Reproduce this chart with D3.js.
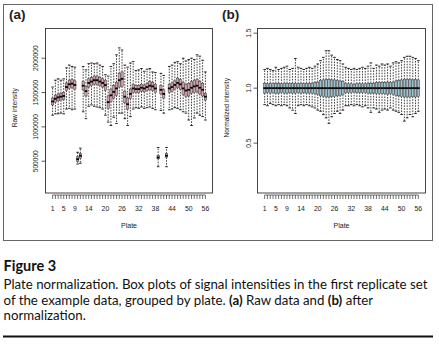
<!DOCTYPE html>
<html><head><meta charset="utf-8">
<script src="https://cdn.jsdelivr.net/npm/d3@7"></script>
<style>
html,body{margin:0;padding:0;background:#fff;}
svg{display:block;}
</style></head>
<body>
<svg id="chart" width="439" height="345"></svg>
<script>
// ---------- data ----------
const plates = [1,2,3,4,5,6,7,8,9,10,11,12,13,14,15,16,17,18,19,20,21,22,23,24,25,26,27,28,
  29,30,31,32,33,34,35,36,37,38,39,40,41,42,43,44,45,46,47,48,49,50,51,52,53,54,55,56];
const xTickLabels = [1,5,9,14,20,26,32,38,44,50,56];
const rawTicks = [500000,1000000,1500000,2000000];
const normTicks = [0.5,1.0,1.5];

const rawMedian = [1370000,1410000,1430000,1440000,1450000,1580000,1620000,1630000,1610000,530000,
  580000,1600000,1520000,1640000,1660000,1680000,1680000,1660000,1640000,1610000,
  1360000,1460000,1510000,1560000,1680000,1700000,1440000,1330000,1480000,1560000,
  1550000,1550000,1570000,1560000,1580000,1600000,1590000,1560000,555000,1540000,
  1480000,580000,1560000,1580000,1610000,1640000,1620000,1560000,1530000,1540000,
  1570000,1590000,1600000,1570000,1540000,1440000];
const rawQ1 = [1320000,1360000,1380000,1390000,1400000,1530000,1560000,1570000,1550000,500000,
  545000,1540000,1450000,1580000,1600000,1620000,1620000,1600000,1580000,1530000,
  1270000,1370000,1420000,1460000,1580000,1590000,1350000,1260000,1410000,1500000,
  1500000,1500000,1520000,1510000,1530000,1540000,1530000,1500000,535000,1480000,
  1420000,555000,1500000,1520000,1550000,1570000,1550000,1470000,1440000,1450000,
  1490000,1500000,1510000,1480000,1450000,1390000];
const rawQ3 = [1420000,1460000,1480000,1490000,1500000,1640000,1680000,1690000,1670000,565000,
  615000,1660000,1590000,1700000,1720000,1740000,1740000,1720000,1700000,1680000,
  1450000,1550000,1600000,1650000,1780000,1800000,1520000,1420000,1550000,1620000,
  1600000,1600000,1620000,1610000,1630000,1660000,1650000,1620000,580000,1600000,
  1540000,610000,1620000,1640000,1670000,1710000,1690000,1650000,1620000,1630000,
  1660000,1680000,1690000,1660000,1630000,1490000];
const rawHigh = [1580000,1680000,1700000,1680000,1700000,1860000,1900000,1880000,1870000,630000,
  690000,1880000,1830000,1920000,1930000,1920000,1930000,1900000,1880000,1760000,
  1740000,1880000,1920000,2050000,2150000,2120000,1900000,1870000,1930000,1950000,
  1820000,1830000,1850000,1810000,1840000,1850000,1800000,1790000,700000,1780000,
  1750000,700000,1880000,1900000,1940000,1950000,1920000,2000000,1960000,1980000,
  2000000,1980000,2050000,2030000,1970000,1800000];
const rawLow = [1170000,1190000,1190000,1200000,1190000,1260000,1270000,1250000,1260000,460000,
  470000,1220000,1120000,1300000,1320000,1300000,1290000,1280000,1260000,1170000,
  1070000,1020000,1140000,1050000,1200000,1200000,1120000,1020000,1150000,1260000,
  1280000,1270000,1290000,1270000,1280000,1290000,1270000,1250000,420000,1240000,
  1200000,420000,1250000,1260000,1280000,1270000,1250000,1220000,1200000,1100000,
  1020000,1130000,1200000,1170000,1150000,1100000];

const normMedian = [1,1,1,1,1,1,1,1,1,1,1,1,1,1,1,1,1,1,1,1,1,1,1,1,1,1,1,1,
  1,1,1,1,1,1,1,1,1,1,1,1,1,1,1,1,1,1,1,1,1,1,1,1,1,1,1,1];
const normQ1 = [0.955,0.96,0.955,0.96,0.955,0.955,0.96,0.955,0.955,0.96,
  0.955,0.955,0.96,0.955,0.96,0.955,0.955,0.955,0.95,0.945,
  0.93,0.925,0.92,0.92,0.925,0.925,0.93,0.935,0.94,0.96,
  0.96,0.96,0.965,0.96,0.96,0.96,0.96,0.955,0.955,0.955,
  0.95,0.95,0.95,0.95,0.945,0.95,0.945,0.935,0.93,0.925,
  0.92,0.92,0.92,0.925,0.92,0.925];
const normQ3 = [1.045,1.04,1.045,1.04,1.045,1.045,1.04,1.045,1.045,1.04,
  1.045,1.045,1.04,1.045,1.04,1.045,1.045,1.045,1.05,1.055,
  1.07,1.075,1.08,1.08,1.075,1.075,1.07,1.065,1.06,1.04,
  1.04,1.04,1.035,1.04,1.04,1.04,1.04,1.045,1.045,1.045,
  1.05,1.05,1.05,1.05,1.055,1.05,1.055,1.065,1.07,1.075,
  1.08,1.08,1.08,1.075,1.08,1.075];
const normHigh = [1.17,1.18,1.17,1.16,1.19,1.17,1.18,1.19,1.20,1.17,
  1.18,1.27,1.19,1.18,1.17,1.18,1.19,1.18,1.20,1.22,
  1.25,1.28,1.34,1.34,1.30,1.28,1.26,1.25,1.22,1.19,
  1.18,1.17,1.18,1.17,1.18,1.19,1.18,1.20,1.23,1.18,
  1.21,1.20,1.22,1.21,1.22,1.20,1.23,1.24,1.23,1.25,
  1.28,1.29,1.29,1.28,1.27,1.25];
const normLow = [0.85,0.84,0.86,0.85,0.84,0.85,0.84,0.85,0.84,0.82,
  0.80,0.77,0.84,0.85,0.84,0.85,0.84,0.83,0.82,0.80,
  0.79,0.76,0.73,0.68,0.74,0.77,0.79,0.77,0.80,0.84,
  0.84,0.85,0.84,0.85,0.84,0.83,0.84,0.82,0.78,0.82,
  0.81,0.78,0.80,0.81,0.80,0.82,0.80,0.79,0.78,0.76,
  0.70,0.73,0.76,0.74,0.77,0.79];

// ---------- drawing ----------
const svg = d3.select("#chart");
const AX = "Liberation Sans, Arial, Helvetica, sans-serif";
const CAP = "Lato, 'Open Sans', sans-serif";

// outer frame
svg.append("rect").attr("x",3.5).attr("y",4.5).attr("width",429).attr("height",236)
  .attr("fill","none").attr("stroke","#666").attr("stroke-width",1);

function panel(opts){
  const {left,right,top,bottom,domain,ticks,tickFmt,med,q1,q3,lo,hi,fill,label,labelX,ylab,yTickX,yLabX} = opts;
  const g = svg.append("g");
  const x = d3.scaleLinear().domain([-1.74, 58.74]).range([left,right]);
  const y = d3.scaleLinear().domain(domain).range([bottom,top]);
  const bw = 2.3;
  const rows = plates.map((p,i)=>({p,med:med[i],q1:q1[i],q3:q3[i],lo:lo[i],hi:hi[i]}));
  // whiskers (dashed)
  g.selectAll(".wu").data(rows).join("line")
    .attr("x1",d=>x(d.p)).attr("x2",d=>x(d.p))
    .attr("y1",d=>y(d.q3)).attr("y2",d=>y(d.hi))
    .attr("stroke","#111").attr("stroke-width",0.8).attr("stroke-dasharray","1.6,1.2");
  g.selectAll(".wl").data(rows).join("line")
    .attr("x1",d=>x(d.p)).attr("x2",d=>x(d.p))
    .attr("y1",d=>y(d.q1)).attr("y2",d=>y(d.lo))
    .attr("stroke","#111").attr("stroke-width",0.8).attr("stroke-dasharray","1.6,1.2");
  // staples
  ["hi","lo"].forEach(k=>{
    g.selectAll(".st"+k).data(rows).join("line")
      .attr("x1",d=>x(d.p)-1.3).attr("x2",d=>x(d.p)+1.3)
      .attr("y1",d=>y(d[k])).attr("y2",d=>y(d[k]))
      .attr("stroke","#111").attr("stroke-width",0.9);
  });
  // boxes
  g.selectAll(".bx").data(rows).join("rect")
    .attr("x",d=>x(d.p)-bw/2).attr("width",bw)
    .attr("y",d=>y(d.q3)).attr("height",d=>y(d.q1)-y(d.q3))
    .attr("fill",fill).attr("stroke","#3a3030").attr("stroke-width",0.5);
  // medians
  g.selectAll(".md").data(rows).join("line")
    .attr("x1",d=>x(d.p)-bw/2-0.2).attr("x2",d=>x(d.p)+bw/2+0.2)
    .attr("y1",d=>y(d.med)).attr("y2",d=>y(d.med))
    .attr("stroke","#000").attr("stroke-width",1.8);
  // plot box
  g.append("rect").attr("x",left+0.5).attr("y",top+0.5)
    .attr("width",right-left-1).attr("height",bottom-top-1)
    .attr("fill","none").attr("stroke","#333").attr("stroke-width",0.9);
  // y axis
  g.append("line").attr("x1",left+0.5).attr("x2",left+0.5)
    .attr("y1",y(ticks[0])).attr("y2",y(ticks[ticks.length-1])).attr("stroke","#333").attr("stroke-width",0.8);
  g.selectAll(".yt").data(ticks).join("line")
    .attr("x1",left+0.5).attr("x2",left-3.5).attr("y1",d=>y(d)).attr("y2",d=>y(d))
    .attr("stroke","#333").attr("stroke-width",0.8);
  g.selectAll(".ytl").data(ticks).join("text")
    .attr("transform",d=>`translate(${yTickX},${y(d)}) rotate(-90)`)
    .attr("text-anchor","middle").attr("font-family",AX).attr("font-size",6.6).attr("fill","#222")
    .text(tickFmt);
  g.append("text").attr("transform",`translate(${yLabX},${(top+bottom)/2-3}) rotate(-90)`)
    .attr("text-anchor","middle").attr("font-family",AX).attr("font-size",6.6).attr("fill","#222")
    .text(ylab);
  // x axis
  const ax = bottom+1.5;
  g.append("line").attr("x1",x(1)).attr("x2",x(56)).attr("y1",ax).attr("y2",ax)
    .attr("stroke","#333").attr("stroke-width",0.7);
  g.selectAll(".xt").data(plates).join("line")
    .attr("x1",d=>x(d)).attr("x2",d=>x(d)).attr("y1",ax).attr("y2",ax+4)
    .attr("stroke","#333").attr("stroke-width",0.7);
  g.selectAll(".xtl").data(xTickLabels).join("text")
    .attr("x",d=>x(d)).attr("y",bottom+17).attr("text-anchor","middle")
    .attr("font-family",AX).attr("font-size",6.9).attr("fill","#222").text(d=>d);
  g.append("text").attr("x",(left+right)/2).attr("y",bottom+34).attr("text-anchor","middle")
    .attr("font-family",AX).attr("font-size",7).attr("fill","#222").text("Plate");
  // panel label
  svg.append("text").attr("x",labelX).attr("y",19).attr("font-family",AX)
    .attr("font-size",13.5).attr("font-weight","bold").attr("fill","#222").text(label);
}

panel({left:45,right:213,top:28,bottom:193.5,domain:[30000,2440000],ticks:rawTicks,
  tickFmt:d=>String(d),med:rawMedian,q1:rawQ1,q3:rawQ3,lo:rawLow,hi:rawHigh,
  fill:"#d2a4ae",label:"(a)",labelX:9,ylab:"Raw intensity",yTickX:38,yLabX:17});
panel({left:257,right:426,top:28,bottom:193.5,domain:[0.042,1.547],ticks:normTicks,
  tickFmt:d=>d.toFixed(1),med:normMedian,q1:normQ1,q3:normQ3,lo:normLow,hi:normHigh,
  fill:"#9cc4d0",label:"(b)",labelX:222,ylab:"Normalized intensity",yTickX:251,yLabX:229});

// ---------- caption ----------
svg.append("text").attr("x",3.5).attr("y",270.5).attr("font-family",CAP)
  .attr("font-size",14.5).attr("font-weight","bold").attr("fill","#111").text("Figure 3");

const capLines = [
  [["Plate normalization. Box plots of signal intensities in the first replicate set",false]],
  [["of the example data, grouped by plate. ",false],["(a)",true],[" Raw data and ",false],["(b)",true],[" after",false]],
  [["normalization.",false]]
];
const capY = [289,304.7,320.4];
const lineEls = capLines.map((parts,i)=>{
  const t = svg.append("text").attr("font-family",CAP).attr("font-size",13).attr("fill","#111")
    .attr("transform",`translate(3.5,${capY[i]})`);
  parts.forEach(([s,b])=>t.append("tspan").attr("font-weight",b?"bold":"normal").text(s));
  return t;
});
const w1 = lineEls[0].node().getComputedTextLength();
const sx = 424.5 / w1;
lineEls.forEach((t,i)=>t.attr("transform",`translate(3.5,${capY[i]}) scale(${sx},1)`));

svg.append("line").attr("x1",3).attr("x2",433).attr("y1",336.5).attr("y2",336.5)
  .attr("stroke","#111").attr("stroke-width",2);
</script>
</body></html>
